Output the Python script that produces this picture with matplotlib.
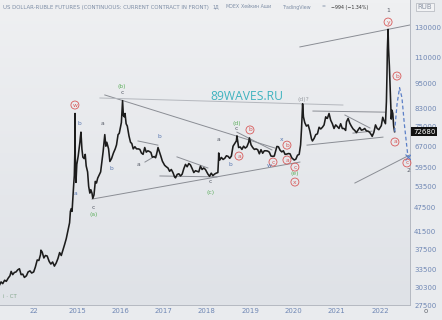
import matplotlib
matplotlib.use('Agg')
import matplotlib.pyplot as plt
import matplotlib.dates as mdates
import numpy as np
from matplotlib.colors import LinearSegmentedColormap

# ---------------- data ----------------
price_dates = [
 '2013-03-20','2013-04-01','2013-04-15','2013-05-01','2013-05-15','2013-06-01','2013-06-15','2013-06-25',
 '2013-07-08','2013-07-22','2013-08-05','2013-08-20','2013-09-03','2013-09-17','2013-10-01','2013-10-15',
 '2013-11-01','2013-11-15','2013-12-01','2013-12-15',
 '2014-01-01','2014-01-15','2014-01-31','2014-02-14','2014-02-28','2014-03-03','2014-03-14','2014-03-28',
 '2014-04-10','2014-04-25','2014-05-12','2014-05-26','2014-06-10','2014-06-25','2014-07-10','2014-07-25',
 '2014-08-08','2014-08-22','2014-09-05','2014-09-19','2014-10-03','2014-10-17','2014-10-31','2014-11-07',
 '2014-11-14','2014-11-21','2014-11-28','2014-12-05','2014-12-10','2014-12-15','2014-12-16','2014-12-18',
 '2014-12-24','2014-12-31',
 '2015-01-12','2015-01-26','2015-01-30','2015-02-04','2015-02-12','2015-02-20','2015-03-03','2015-03-12',
 '2015-03-20','2015-04-01','2015-04-10','2015-04-20','2015-04-28','2015-05-08','2015-05-15','2015-05-25',
 '2015-06-05','2015-06-15','2015-06-25','2015-07-08','2015-07-20','2015-07-31','2015-08-10','2015-08-24',
 '2015-09-02','2015-09-10','2015-09-25','2015-10-06','2015-10-20','2015-11-05','2015-11-20','2015-12-01',
 '2015-12-14','2015-12-24',
 '2016-01-11','2016-01-21','2016-01-28','2016-02-05','2016-02-11','2016-02-20','2016-03-01','2016-03-15',
 '2016-03-28','2016-04-08','2016-04-20','2016-05-04','2016-05-18','2016-06-02','2016-06-15','2016-06-28',
 '2016-07-12','2016-07-26','2016-08-08','2016-08-22','2016-09-05','2016-09-16','2016-09-28','2016-10-12',
 '2016-10-26','2016-11-08','2016-11-15','2016-11-28','2016-12-08','2016-12-22',
 '2017-01-10','2017-01-24','2017-02-07','2017-02-21','2017-03-07','2017-03-21','2017-04-04','2017-04-12',
 '2017-04-26','2017-05-10','2017-05-24','2017-06-07','2017-06-21','2017-07-05','2017-07-19','2017-08-02',
 '2017-08-16','2017-08-30','2017-09-13','2017-09-27','2017-10-11','2017-10-25','2017-11-08','2017-11-22',
 '2017-12-06','2017-12-20',
 '2018-01-10','2018-01-24','2018-02-07','2018-02-21','2018-03-07','2018-03-21','2018-04-04','2018-04-10',
 '2018-04-11','2018-04-20','2018-05-04','2018-05-18','2018-06-01','2018-06-15','2018-06-29','2018-07-13',
 '2018-07-27','2018-08-10','2018-08-24','2018-09-07','2018-09-12','2018-09-26','2018-10-10','2018-10-24',
 '2018-11-07','2018-11-21','2018-12-05','2018-12-20','2018-12-26',
 '2019-01-09','2019-01-23','2019-02-06','2019-02-20','2019-03-06','2019-03-20','2019-04-03','2019-04-17',
 '2019-05-01','2019-05-15','2019-05-29','2019-06-12','2019-06-26','2019-07-10','2019-07-24','2019-08-07',
 '2019-08-15','2019-08-28','2019-09-11','2019-09-25','2019-10-09','2019-10-23','2019-11-06','2019-11-20',
 '2019-12-04','2019-12-18',
 '2020-01-08','2020-01-22','2020-02-05','2020-02-19','2020-03-02','2020-03-10','2020-03-19','2020-03-26',
 '2020-04-06','2020-04-20','2020-05-05','2020-05-19','2020-06-02','2020-06-10','2020-06-24','2020-07-08',
 '2020-07-22','2020-08-05','2020-08-19','2020-09-02','2020-09-16','2020-09-30','2020-10-07','2020-10-14',
 '2020-10-28','2020-11-11','2020-11-25','2020-12-09','2020-12-23',
 '2021-01-06','2021-01-20','2021-02-03','2021-02-17','2021-03-03','2021-03-17','2021-03-24','2021-04-07',
 '2021-04-21','2021-05-05','2021-05-19','2021-06-02','2021-06-16','2021-06-30','2021-07-14','2021-07-28',
 '2021-08-11','2021-08-25','2021-09-08','2021-09-22','2021-10-06','2021-10-20','2021-10-27','2021-11-10',
 '2021-11-24','2021-12-08','2021-12-22',
 '2022-01-12','2022-01-24','2022-02-02','2022-02-16','2022-02-24','2022-03-01','2022-03-04','2022-03-10',
 '2022-03-14','2022-03-21','2022-03-28','2022-04-01','2022-04-06','2022-04-12','2022-04-19','2022-04-26',
 '2022-05-04']
price_values = [
 30800,31300,31000,31600,31400,32000,32400,33200,
 32600,33000,33100,33500,33700,32600,32700,32100,
 32400,33100,33300,32900,
 33100,34000,35400,35300,36500,37400,37000,35800,
 36300,36200,35100,34600,35000,34200,34800,35700,
 36900,36300,37400,38600,39900,41700,43600,46500,
 47200,46500,50400,54200,56800,66000,80500,63000,
 54700,60500,
 63500,68500,70500,72500,66000,63000,62500,64000,
 60000,58000,53500,51500,52500,51500,50000,51000,
 55000,54500,56000,57000,58000,61500,65000,71500,
 67000,68500,66000,61500,62500,64500,66000,67500,
 71500,72000,
 76500,86500,79500,79000,80500,76000,75000,71000,
 68500,68000,66000,66800,66000,66000,65800,64500,
 64000,66500,64800,65300,65000,64700,63000,63200,
 62800,65000,66500,64800,63500,61600,
 60200,59700,59300,58200,58800,57800,56400,56100,
 57200,57400,56700,57300,59100,60500,59700,60800,
 60300,59100,57800,58400,58200,58000,59900,58800,
 59300,58800,
 57300,56600,57600,56800,57300,57600,57800,62500,
 64500,62000,62900,62200,62600,63500,63300,62600,
 63400,67000,68000,69000,71000,66500,66700,65800,
 67000,66300,66800,68500,70200,
 67500,66500,65800,66000,65700,64200,65700,64400,
 65300,65300,65200,64800,63400,63300,63400,65600,
 66900,66800,65500,64900,65300,64000,64100,64300,
 64200,62800,
 62000,62300,63700,64000,67500,74000,85000,79000,
 76500,75000,75500,73000,69800,69000,70000,71500,
 71800,74500,73800,74500,75500,79000,78500,78300,
 80500,77500,76000,74000,75500,
 74800,74000,76000,74000,74000,73200,76800,78300,
 76200,74900,73800,73200,72300,73400,74400,73300,
 73500,74000,73000,72900,72400,71400,70800,72400,
 75500,74000,73500,
 75200,78800,77500,76000,86000,101000,115000,129000,
 116000,105000,92000,84000,78000,82000,80500,75000,
 72680]

proj_dates = ['2022-05-04','2022-05-25','2022-06-15','2022-07-05','2022-07-25','2022-08-25']
proj_values = [72680, 85000, 93000, 88000, 76000, 63000]

trend_lines = [  # (start date, start price, end date, end price, colour)
 ('2015-08-24', 89300, '2019-07-30', 66300, '#8a8d94'),
 ('2015-07-14', 87800, '2021-02-22', 84400, '#b4b7bd'),
 ('2015-05-08', 49800, '2020-02-25', 61300, '#8a8d94'),
 ('2016-12-01', 56700, '2018-03-27', 56400, '#8a8d94'),
 ('2016-05-30', 69000, '2016-11-14', 67400, '#8a8d94'),
 ('2016-07-28', 61300, '2016-11-06', 63800, '#8a8d94'),
 ('2017-04-24', 63100, '2018-01-10', 59300, '#8a8d94'),
 ('2018-09-12', 72500, '2019-07-04', 65600, '#8a8d94'),
 ('2020-06-14', 81600, '2022-02-12', 81100, '#8a8d94'),
 ('2020-04-25', 67400, '2022-01-26', 70500, '#8a8d94'),
 ('2021-03-11', 79800, '2021-10-08', 74200, '#8a8d94'),
 ('2021-05-18', 72100, '2021-10-25', 72900, '#8a8d94'),
 ('2020-02-25', 116900, '2022-09-10', 132200, '#8a8d94'),
 ('2021-06-03', 54500, '2022-09-10', 63800, '#8a8d94'),
]

label_text  = ['w','b','a','c','(a)','a','b','(b)','c','b','a','c','(c)','a','b','(d)','c',
               'a','b','c','w','x','b','a','c','(e)','x','(d)?','y','1','a','b','c','2']
label_dates = ['2014-12-15','2015-01-18','2014-12-23','2015-05-16','2015-05-24','2015-08-08','2015-10-15',
               '2016-01-16','2016-01-16','2016-11-23','2016-05-30','2018-01-27','2018-02-05','2018-04-05',
               '2018-07-15','2018-09-12','2018-09-03','2018-09-29','2018-12-31','2019-07-13','2019-06-09',
               '2019-09-27','2019-11-08','2019-11-08','2020-01-14','2020-01-14','2020-01-14','2020-03-22',
               '2022-03-10','2022-03-10','2022-05-07','2022-05-24','2022-08-16','2022-08-25']
label_prices = [84400,75900,51500,47600,45800,75900,59000,93400,90300,70900,60300,55100,51800,69400,
                60300,76300,73800,63400,73400,61300,60000,69400,67400,62000,59600,57600,54800,87300,
                134400,143800,68600,99300,61000,58600]
label_style = ['R','B','B','D','G','D','B','G','D','B','D','D','G','D','B','G','D',
               'R','R','R','B','B','R','R','R','G','R','N','R','D','R','R','R','D']

y_ticks = [130000,110000,95000,83000,75000,67000,59500,53500,47500,41500,37500,33500,30300,27500]
x_tick_dates = ['2014-01-01','2015-01-01','2016-01-01','2017-01-01','2018-01-01',
                '2019-01-01','2020-01-01','2021-01-01','2022-01-01']
x_tick_labels = ['22','2015','2016','2017','2018','2019','2020','2021','2022']
last_price = 72680

# ---------------- figure ----------------
W, H = 442, 320
fig = plt.figure(figsize=(W/100, H/100), dpi=100)
fig.patch.set_facecolor('#e9ebee')
ax = fig.add_axes([0, 15/H, 410/W, 305/H])
ax.set_facecolor('#e6e8ec')

d = lambda s: mdates.date2num(np.datetime64(s))

grad = np.linspace(0, 1, 100).reshape(-1, 1)
cmap = LinearSegmentedColormap.from_list('bg', ['#dfe2e7', '#eff0f2'])
ax.imshow(grad, extent=[0, 1, 0, 1], transform=ax.transAxes, cmap=cmap,
          aspect='auto', origin='lower', zorder=0)

x = [d(s) for s in price_dates]
ax.plot(x, price_values, color='#1c1c1c', lw=1.15, zorder=4)

for s0, p0, s1, p1, c in trend_lines:
    ax.plot([d(s0), d(s1)], [p0, p1], color=c, lw=0.7, zorder=3)

ax.plot([d(s) for s in proj_dates], proj_values, color='#5b7fc7', lw=0.9,
        ls=(0, (3, 2)), zorder=4)
ax.plot([d(proj_dates[-1])], [proj_values[-1]], marker='x', ms=4, color='#5b7fc7',
        mew=0.8, zorder=5)

colors = {'B': '#5a78b0', 'D': '#555a66', 'G': '#5cae5c', 'R': '#d85a5a', 'N': '#9a9da3'}
for t, s, p, st in zip(label_text, label_dates, label_prices, label_style):
    kw = dict(ha='center', va='center', fontsize=4.3, color=colors[st], zorder=6)
    if st == 'R':
        kw['bbox'] = dict(boxstyle='circle,pad=0.25', fc='none', ec=colors[st], lw=0.6)
    ax.text(d(s), p, t, **kw)

ax.set_yscale('log')
ax.set_ylim(27500, 152100)
ax.set_xlim(d('2013-03-23'), d('2022-09-11'))
ax.yaxis.set_major_locator(matplotlib.ticker.FixedLocator(y_ticks))
ax.yaxis.set_major_formatter(matplotlib.ticker.FixedFormatter([str(v) for v in y_ticks]))
ax.yaxis.set_minor_locator(matplotlib.ticker.NullLocator())
ax.yaxis.tick_right()
ax.tick_params(axis='y', length=0, pad=3, labelsize=5, labelcolor='#6f87b4')
ax.set_xticks([d(s) for s in x_tick_dates])
ax.set_xticklabels(x_tick_labels)
ax.tick_params(axis='x', length=0, pad=2, labelsize=5, labelcolor='#6f87b4')
for sp in ['top', 'left']:
    ax.spines[sp].set_visible(False)
for sp in ['right', 'bottom']:
    ax.spines[sp].set_color('#b5b9c1')
    ax.spines[sp].set_linewidth(0.7)

ax.text(1.0 + 3/410, last_price, str(last_price), transform=ax.get_yaxis_transform(),
        ha='left', va='center', fontsize=5, color='white', zorder=10,
        bbox=dict(boxstyle='square,pad=0.25', fc='#111111', ec='none'), clip_on=False)

# watermark
ax.text(d('2018-01-27'), 88300, '89WAVES.RU', fontsize=8.7, color='#3fb3bf',
        family='Open Sans', ha='left', va='center', zorder=2)

# header texts
hy = 1 - 7/H
tc = '#7e8ea6'
fig.text(3/W, hy, 'US DOLLAR-RUBLE FUTURES (CONTINUOUS: CURRENT CONTRACT IN FRONT)',
         fontsize=3.85, color=tc, va='center', ha='left')
fig.text(212/W, hy, '1Д', fontsize=3.4, color=tc, va='center')
fig.text(226/W, hy, 'MOEX', fontsize=3.4, color=tc, va='center')
fig.text(241/W, hy, 'Хейкин Аши', fontsize=3.4, color=tc, va='center')
fig.text(283/W, hy, 'TradingView', fontsize=3.4, color=tc, va='center')
fig.text(322/W, hy, '=', fontsize=3.4, color=tc, va='center')
fig.text(331/W, hy, '−994 (−1.34%)', fontsize=3.4, color='#333333', va='center')
fig.text(425/W, hy, 'RUB', fontsize=5, color='#8a93a3', va='center', ha='center',
         bbox=dict(boxstyle='square,pad=0.2', fc='#f2f3f5', ec='#b0b4bb', lw=0.5))
fig.text(3/W, 1 - 296/H, 'i · CT', fontsize=4, color='#86a88f', va='center')
fig.text(426/W, 1 - 311/H, 'o', fontsize=5, color='#666a72', va='center', ha='center')

fig.savefig('out.png', dpi=100, facecolor=fig.get_facecolor())
